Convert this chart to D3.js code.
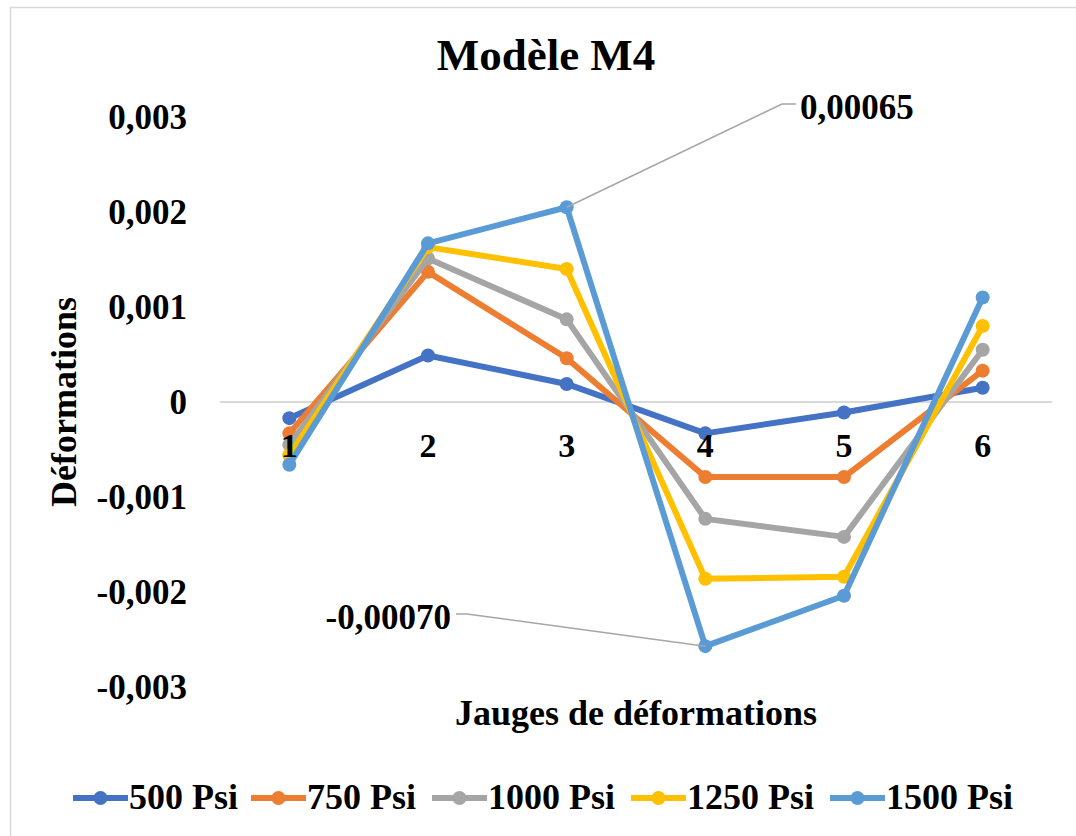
<!DOCTYPE html>
<html>
<head>
<meta charset="utf-8">
<script src="https://cdn.jsdelivr.net/npm/d3@7"></script>
<style>
  html, body { margin: 0; padding: 0; background: #fff; }
  svg { display: block; }
  text { font-family: "Liberation Serif", "Times New Roman", serif; font-weight: bold; fill: #000; }
</style>
</head>
<body>
<svg id="chart" width="1076" height="836"></svg>
<script>
// Gauge positions along the model
const categories = ["1", "2", "3", "4", "5", "6"];

// Strain readings per pressure level
const seriesNames = ["500 Psi", "750 Psi", "1000 Psi", "1250 Psi", "1500 Psi"];
const s500  = [-0.00017, 0.00049, 0.00019, -0.00033, -0.00011, 0.00015];
const s750  = [-0.00033, 0.00137, 0.00046, -0.00079, -0.00079, 0.00033];
const s1000 = [-0.00045, 0.00151, 0.00087, -0.00123, -0.00142, 0.00055];
const s1250 = [-0.00056, 0.00163, 0.00140, -0.00186, -0.00184, 0.00080];
const s1500 = [-0.00066, 0.00167, 0.00205, -0.00257, -0.00204, 0.00110];
const seriesValues = [s500, s750, s1000, s1250, s1500];
const seriesColors = ["#4472C4", "#ED7D31", "#A5A5A5", "#FFC000", "#5B9BD5"];

// Y axis ticks
const yTicks = [-0.003, -0.002, -0.001, 0, 0.001, 0.002, 0.003];

// Callout labels attached to points of the 1500 Psi series
const calloutTexts = ["0,00065", "-0,00070"];
const calloutCats = ["3", "4"];

const svg = d3.select("#chart");

// Chart frame
svg.append("rect")
  .attr("x", 10.5).attr("y", 7.5)
  .attr("width", 1100).attr("height", 900)
  .attr("fill", "none").attr("stroke", "#d9d9d9").attr("stroke-width", 1.5);

const plot = { left: 220, right: 1052, top: 117, bottom: 687 };

const x = d3.scaleBand().domain(categories).range([plot.left, plot.right]);
const xc = c => x(c) + x.bandwidth() / 2;
const y = d3.scaleLinear().domain([-0.003, 0.003]).range([plot.bottom, plot.top]);

const locale = d3.formatLocale({ decimal: ",", thousands: " ", grouping: [3], minus: "-" });
const fmt = locale.format(".3f");

// Zero gridline
svg.append("line")
  .attr("x1", plot.left).attr("x2", plot.right)
  .attr("y1", y(0)).attr("y2", y(0))
  .attr("stroke", "#d9d9d9").attr("stroke-width", 2);

// Y axis labels
const yAxis = d3.axisLeft(y).tickValues(yTicks).tickSize(0).tickPadding(33)
  .tickFormat(d => d === 0 ? "0" : fmt(d));
const yg = svg.append("g").attr("transform", `translate(${plot.left},0)`).call(yAxis);
yg.select(".domain").remove();
yg.selectAll("text")
  .attr("font-family", null).attr("font-size", null)
  .style("font-size", "35px").attr("dy", "0.34em");

// Title and axis titles
svg.append("text")
  .attr("x", 546).attr("y", 70)
  .attr("text-anchor", "middle")
  .style("font-size", "45px")
  .text("Modèle M4");

svg.append("text")
  .attr("transform", `translate(76,${y(0)}) rotate(-90)`)
  .attr("text-anchor", "middle")
  .style("font-size", "36px")
  .text("Déformations");

svg.append("text")
  .attr("x", (plot.left + plot.right) / 2).attr("y", 725)
  .attr("text-anchor", "middle")
  .style("font-size", "36px")
  .text("Jauges de déformations");

// Series lines and markers
const line = d3.line().x((d, i) => xc(categories[i])).y(d => y(d));
seriesValues.forEach((vals, si) => {
  const g = svg.append("g");
  g.append("path")
    .datum(vals)
    .attr("d", line)
    .attr("fill", "none")
    .attr("stroke", seriesColors[si])
    .attr("stroke-width", 6)
    .attr("stroke-linejoin", "round");
  g.selectAll("circle")
    .data(vals)
    .join("circle")
    .attr("cx", (d, i) => xc(categories[i]))
    .attr("cy", d => y(d))
    .attr("r", 7)
    .attr("fill", seriesColors[si]);
});

// X axis labels, below the zero line and drawn over the series
const xAxis = d3.axisBottom(x).tickSize(0).tickPadding(31);
const xg = svg.append("g").attr("transform", `translate(0,${y(0)})`).call(xAxis);
xg.select(".domain").remove();
xg.selectAll("text")
  .attr("font-family", null).attr("font-size", null)
  .style("font-size", "34px");

// Callouts with leader lines
const topSeries = seriesValues[4];
const calloutLayout = [
  { tx: 800, ty: 119, anchor: "start", elbow: [[782, 104], [796, 104]] },
  { tx: 451, ty: 629, anchor: "end", elbow: [[467, 614], [456, 614]] }
];
calloutTexts.forEach((t, k) => {
  const ci = categories.indexOf(calloutCats[k]);
  const px = xc(calloutCats[k]);
  const py = y(topSeries[ci]);
  const L = calloutLayout[k];
  const pts = [[px, py]].concat(L.elbow);
  svg.append("path")
    .attr("d", d3.line()(pts))
    .attr("fill", "none")
    .attr("stroke", "#a6a6a6")
    .attr("stroke-width", 1.5);
  svg.append("text")
    .attr("x", L.tx).attr("y", L.ty)
    .attr("text-anchor", L.anchor)
    .style("font-size", "35px")
    .text(t);
});

// Legend
const legendStarts = [73, 251, 432, 631, 830];
const legendY = 798;
seriesNames.forEach((name, si) => {
  const g = svg.append("g").attr("transform", `translate(${legendStarts[si]},${legendY})`);
  g.append("line")
    .attr("x1", 0).attr("x2", 55).attr("y1", 0).attr("y2", 0)
    .attr("stroke", seriesColors[si]).attr("stroke-width", 6);
  g.append("circle")
    .attr("cx", 27.5).attr("cy", 0).attr("r", 7)
    .attr("fill", seriesColors[si]);
  g.append("text")
    .attr("x", 56).attr("y", 11)
    .style("font-size", "36px")
    .text(name);
});
</script>
</body>
</html>
